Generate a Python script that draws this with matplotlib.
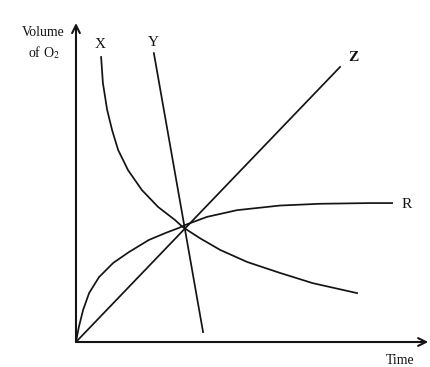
import numpy as np
import matplotlib
matplotlib.use("Agg")
import matplotlib.pyplot as plt

plt.rcParams['font.family'] = ['Liberation Serif', 'DejaVu Serif']
plt.rcParams['mathtext.fontset'] = 'stix'

# curve X : falls off quickly, then levels out
x_t = [0.71, 0.76, 0.88, 1.02, 1.19, 1.47, 1.86, 2.32, 2.80, 3.02,
       3.50, 4.07, 4.83, 5.76, 6.69, 7.94]
x_v = [8.04, 7.31, 6.55, 5.98, 5.42, 4.85, 4.29, 3.81, 3.44, 3.24,
       2.93, 2.60, 2.26, 1.95, 1.66, 1.38]

# line Y : steep straight drop
y_t = [2.20, 3.59]
y_v = [8.15, 0.28]

# line Z : straight rise from origin
z_t = [0.0, 7.46]
z_v = [0.0, 7.76]

# curve R : rises and saturates
r_t = [0.0, 0.08, 0.20, 0.37, 0.65, 1.05, 1.50, 2.06, 2.54, 2.91,
       3.08, 3.70, 4.55, 5.76, 6.89, 8.31, 8.93]
r_v = [0.0, 0.42, 0.90, 1.38, 1.83, 2.23, 2.54, 2.88, 3.08, 3.22,
       3.30, 3.53, 3.72, 3.85, 3.90, 3.92, 3.92]

labels = {'X': (0.68, 8.38), 'Y': (2.18, 8.44), 'Z': (7.84, 8.03), 'R': (9.33, 3.87)}

fig = plt.figure(figsize=(4.31, 3.67), dpi=100)
ax = fig.add_axes([0.1763, 0.0681, 0.8213, 0.8692])
ax.set_xlim(0, 10)
ax.set_ylim(0, 9)
ax.axis('off')

ink = '#141414'
lw = 1.25
for t, v in [(x_t, x_v), (y_t, y_v), (z_t, z_v), (r_t, r_v)]:
    ax.plot(t, v, color=ink, lw=lw, solid_joinstyle='round')

for name, (tx, ty) in labels.items():
    ax.text(tx, ty, name, fontsize=11, ha='center', va='center', color=ink,
            fontweight='bold' if name == 'Z' else 'normal')

# axes with arrow heads
arrow = dict(arrowstyle='->', lw=1.5, color=ink, mutation_scale=14,
             shrinkA=0, shrinkB=0)
ax.annotate('', xy=(0.0, 1.0), xytext=(0.0, 0.0), xycoords='axes fraction',
            arrowprops=arrow)
ax.annotate('', xy=(0.995, 0.0), xytext=(0.0, 0.0), xycoords='axes fraction',
            arrowprops=arrow)

fig.text(43 / 431, 1 - 33 / 367, 'Volume', fontsize=10, ha='center', va='center', color=ink)
fig.text(44 / 431, 1 - 53 / 367, r'of O$_2$', fontsize=10, ha='center', va='center', color=ink)
fig.text(400 / 431, 1 - 361 / 367, 'Time', fontsize=10, ha='center', va='center', color=ink)

fig.savefig('out.png', dpi=100)
